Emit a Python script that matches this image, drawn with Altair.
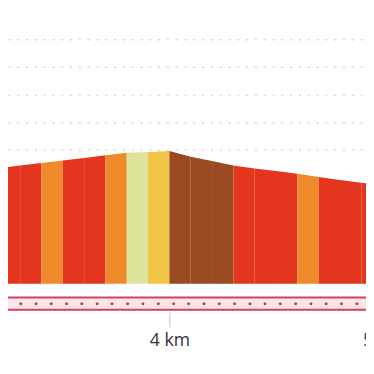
import altair as alt
import pandas as pd

# distance (km) at each 100 m segment boundary and elevation (m) there
KM = [3.2, 3.3, 3.4, 3.5, 3.6, 3.7, 3.8, 3.9, 4.0, 4.1,
      4.2, 4.3, 4.4, 4.5, 4.6, 4.7, 4.8, 4.9, 5.0]
ELEV = [133.5, 134.4, 135.3, 136.2, 137.1, 138.1, 139.0, 139.3, 139.6, 137.6,
        136.0, 134.4, 133.3, 132.4, 131.4, 130.2, 129.1, 128.1, 127.3]
# gradient class of each 100 m segment
SEG_CLASS = ["red", "red", "orange", "red", "red", "orange", "pale", "yellow", "brown",
             "brown", "brown", "red", "red", "red", "orange", "red", "red", "red"]
CLASS_NAMES = ["red", "orange", "pale", "yellow", "brown"]
CLASS_COLORS = ["#e4361f", "#ee8a2a", "#dde39b", "#f0c444", "#9a4a21"]

# markers on the route strip (km)
DOT_KM = [3.234, 3.303, 3.375, 3.446, 3.518, 3.589, 3.661, 3.731, 3.804, 3.876,
          3.948, 4.020, 4.090, 4.162, 4.234, 4.306, 4.378, 4.448, 4.520, 4.592,
          4.664, 4.735, 4.807, 4.879]
TICK_KM = [4, 5]
GRID_ELEV = [140, 150, 160, 170, 180]

BASE_ELEV = 91.56
STRIP_TOP = 86.6
STRIP_BOTTOM = 82.2
STRIP_MID = 84.3

W = 366
H = 305
RANGE_END = 426

rows = []
for i, cls in enumerate(SEG_CLASS):
    rows.append({"seg": i, "cls": cls, "km": KM[i], "elev": ELEV[i]})
    rows.append({"seg": i, "cls": cls, "km": KM[i + 1], "elev": ELEV[i + 1]})
seg_df = pd.DataFrame(rows)

xscale = alt.Scale(domain=[3.2431, 5.1972], range=[0, RANGE_END], nice=False, zero=False)
yscale = alt.Scale(domain=[82, 190], nice=False, zero=False)

xaxis = alt.Axis(values=TICK_KM, labelExpr="datum.value + ' km'", grid=False,
                 domain=False, ticks=True, tickColor="#c4c4c4", tickSize=15,
                 tickWidth=1, offset=2, labelFontSize=18, labelFont="Open Sans",
                 labelColor="#333333", labelPadding=5, labelFlush=False,
                 labelOverlap=False, title="")
yaxis = alt.Axis(values=GRID_ELEV, grid=True, gridColor="#d6d6d6",
                 gridDash=[2, 7], gridWidth=1.5, labels=False, ticks=False,
                 domain=False, title="")

area = alt.Chart(seg_df).mark_area(clip=True, interpolate="linear").encode(
    x=alt.X("km:Q", scale=xscale, axis=xaxis),
    y=alt.Y("elev:Q", scale=yscale, axis=yaxis, stack=False),
    y2=alt.datum(BASE_ELEV),
    color=alt.Color("cls:N", scale=alt.Scale(domain=CLASS_NAMES, range=CLASS_COLORS),
                    legend=None),
    detail="seg:N",
)

strip = alt.Chart(pd.DataFrame({"a": [0]})).mark_rect(color="#fde6ea").encode(
    x=alt.value(0), x2=alt.value(W),
    y=alt.Y(datum=STRIP_TOP, scale=yscale),
    y2=alt.datum(STRIP_BOTTOM),
)

lines = alt.Chart(pd.DataFrame({"e": [STRIP_TOP, STRIP_BOTTOM]})).mark_rule(
    color="#d8405c", strokeWidth=2).encode(
    x=alt.value(0), x2=alt.value(W),
    y=alt.Y("e:Q", scale=yscale),
)

dots = alt.Chart(pd.DataFrame({"km": DOT_KM})).mark_circle(
    size=9, color="#c8284a", opacity=1).encode(
    x=alt.X("km:Q", scale=xscale),
    y=alt.Y(datum=STRIP_MID, scale=yscale),
)

chart = alt.layer(area, strip, lines, dots).properties(
    width=W, height=H,
    autosize=alt.AutoSizeParams(type="none"),
    padding={"left": 0, "top": 0, "right": 0, "bottom": 50},
).configure_view(strokeWidth=0)

chart.save("out.html", embed_options={"renderer": "svg", "actions": False})
